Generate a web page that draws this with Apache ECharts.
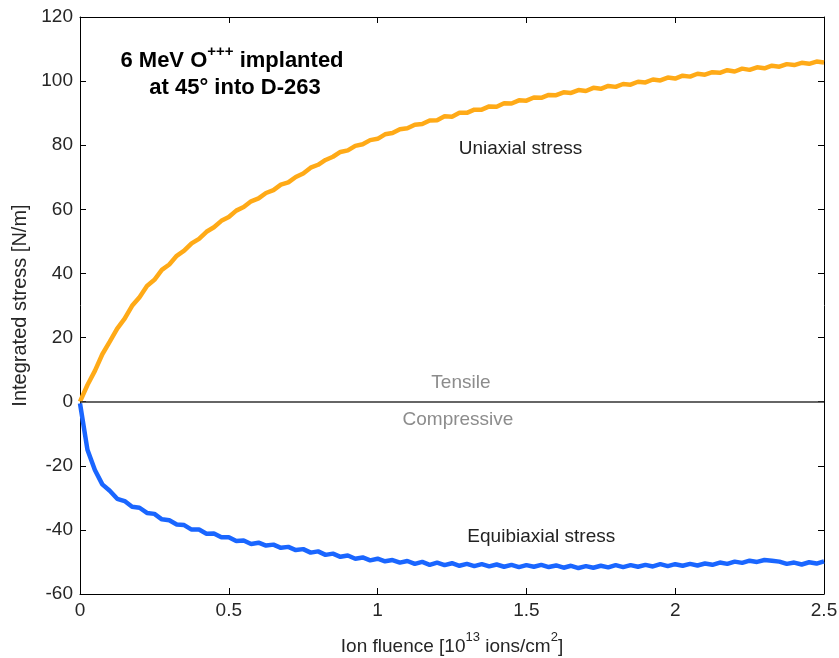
<!DOCTYPE html>
<html><head><meta charset="utf-8">
<script src="https://cdn.jsdelivr.net/npm/echarts@6/dist/echarts.min.js"></script>
<style>html,body{margin:0;padding:0;background:#fff}#c{width:839px;height:658px}</style>
</head><body><div id="c"></div><script>
// Ion fluence [10^13 ions/cm^2]
const fluence = [0,0.025,0.05,0.075,0.1,0.125,0.15,0.175,0.2,0.225,0.25,0.275,0.3,0.325,0.35,0.375,0.4,0.425,0.45,0.475,0.5,0.525,0.55,0.575,0.6,0.625,0.65,0.675,0.7,0.725,0.75,0.775,0.8,0.825,0.85,0.875,0.9,0.925,0.95,0.975,1,1.025,1.05,1.075,1.1,1.125,1.15,1.175,1.2,1.225,1.25,1.275,1.3,1.325,1.35,1.375,1.4,1.425,1.45,1.475,1.5,1.525,1.55,1.575,1.6,1.625,1.65,1.675,1.7,1.725,1.75,1.775,1.8,1.825,1.85,1.875,1.9,1.925,1.95,1.975,2,2.025,2.05,2.075,2.1,2.125,2.15,2.175,2.2,2.225,2.25,2.275,2.3,2.325,2.35,2.375,2.4,2.425,2.45,2.475,2.5];
// Uniaxial stress [N/m]
const uniaxial = [0,5.2,9.6,14.8,18.7,22.8,25.9,29.9,32.6,36.1,
 38.0,41.1,42.8,45.5,47.1,49.4,50.8,53.0,54.4,56.4,
 57.6,59.6,60.7,62.5,63.4,65.1,66.0,67.7,68.4,70.1,
 71.2,73.0,73.9,75.4,76.4,77.9,78.4,79.8,80.3,81.6,
 82.0,83.4,83.8,85.0,85.3,86.4,86.6,87.7,87.8,89.0,
 88.9,90.1,90.1,91.1,91.1,92.1,92.0,93.1,93.0,94.0,
 93.9,94.9,94.8,95.7,95.6,96.5,96.3,97.2,96.9,97.9,
 97.6,98.5,98.2,99.1,98.9,99.8,99.6,100.5,100.2,101.1,
 100.8,101.7,101.4,102.3,102.0,102.8,102.6,103.4,103.0,103.9,
 103.5,104.3,104.0,104.8,104.5,105.3,105.0,105.7,105.4,106.1,
 105.8];
// Equibiaxial stress [N/m]
const equibiaxial = [-0.5,-15.0,-21.3,-25.8,-27.8,-30.3,-31.0,-32.8,-33.1,-34.7,
 -35.0,-36.7,-37.0,-38.3,-38.5,-39.9,-39.9,-41.2,-41.1,-42.3,
 -42.3,-43.5,-43.3,-44.4,-44.0,-44.9,-44.6,-45.6,-45.3,-46.3,
 -46.0,-47.1,-46.7,-47.8,-47.4,-48.4,-48.0,-49.0,-48.6,-49.5,
 -49.0,-49.8,-49.4,-50.2,-49.7,-50.6,-50.0,-50.9,-50.2,-51.0,
 -50.4,-51.2,-50.6,-51.3,-50.7,-51.4,-50.8,-51.5,-50.9,-51.6,
 -51.0,-51.5,-50.9,-51.6,-51.1,-51.8,-51.2,-51.9,-51.3,-51.8,
 -51.2,-51.7,-51.0,-51.6,-51.0,-51.5,-50.9,-51.4,-50.7,-51.3,
 -50.7,-51.2,-50.6,-51.1,-50.5,-50.9,-50.2,-50.6,-49.9,-50.3,
 -49.6,-50.0,-49.4,-49.6,-49.9,-50.6,-50.2,-50.8,-50.1,-50.5,
 -49.8];
const xTicks = {min:0, max:2.5, step:0.5};
const yTicks = {min:-60, max:120, step:20};
const annotations = [
  {text:'Uniaxial stress', at:[1.48, 79], color:'#222'},
  {text:'Equibiaxial stress', at:[1.55, -42.3], color:'#222'},
  {text:'Tensile', at:[1.28, 6], color:'#8c8c8c'},
  {text:'Compressive', at:[1.27, -5.6], color:'#8c8c8c'}
];

const FONT = '"Liberation Sans", Arial, sans-serif';
const LBL = '#262626';
const chart = echarts.init(document.getElementById('c'));
const axisLine = {onZero:false, lineStyle:{color:'#000', width:1}};
const axisTick = {inside:true, length:6, lineStyle:{color:'#000', width:1}};
const option = {
  animation:false,
  backgroundColor:'#fff',
  grid:{left:80, right:15, top:17, bottom:64, containLabel:false, outerBoundsMode:'none'},
  xAxis:[{
    type:'value', min:xTicks.min, max:xTicks.max, interval:xTicks.step, position:'bottom',
    axisLine, axisTick, splitLine:{show:false},
    axisLabel:{fontFamily:FONT, fontSize:19, color:LBL, margin:7},
    name:'{a|Ion fluence [10}{s|13}{a| ions/cm}{s|2}{a|]}',
    nameLocation:'middle', nameGap:37,
    nameTextStyle:{rich:{
      a:{fontFamily:FONT, fontSize:19, color:LBL, lineHeight:32, verticalAlign:'middle'},
      s:{fontFamily:FONT, fontSize:13, color:LBL, lineHeight:15, verticalAlign:'top'}
    }}
  },{
    type:'value', min:xTicks.min, max:xTicks.max, interval:xTicks.step, position:'top',
    axisLine, axisTick, splitLine:{show:false}, axisLabel:{show:false}
  }],
  yAxis:[{
    type:'value', min:yTicks.min, max:yTicks.max, interval:yTicks.step, position:'left',
    axisLine, axisTick, splitLine:{show:false},
    axisLabel:{fontFamily:FONT, fontSize:19, color:LBL, margin:7},
    name:'Integrated stress [N/m]', nameLocation:'middle', nameRotate:90, nameGap:45,
    nameTextStyle:{fontFamily:FONT, fontSize:20, color:LBL}
  },{
    type:'value', min:yTicks.min, max:yTicks.max, interval:yTicks.step, position:'right',
    axisLine, axisTick, splitLine:{show:false}, axisLabel:{show:false}
  }],
  series:[{
    type:'line', name:'Uniaxial stress', xAxisIndex:0, yAxisIndex:0,
    data:fluence.map((x,i)=>[x, uniaxial[i]]),
    showSymbol:false, symbol:'none', lineStyle:{color:'#FFAA17', width:4.5}, itemStyle:{color:'#FFAA17'},
    z:3,
    markLine:{silent:true, symbol:['none','none'], label:{show:false},
      lineStyle:{color:'#333', width:1.5, type:'solid'}, data:[{yAxis:0}]}
  },{
    type:'line', name:'Equibiaxial stress', xAxisIndex:0, yAxisIndex:0,
    data:fluence.map((x,i)=>[x, equibiaxial[i]]),
    showSymbol:false, symbol:'none', lineStyle:{color:'#1A66FF', width:4.5}, itemStyle:{color:'#1A66FF'},
    z:3
  }]
};
chart.setOption(option);

const graphics = [{
  type:'text', x:232, y:61,
  style:{text:'{a|6 MeV O}{s|+++}{a| implanted}', align:'center', verticalAlign:'middle',
    rich:{a:{fontFamily:FONT, fontSize:22, fontWeight:'bold', fill:'#000', lineHeight:34, verticalAlign:'middle'},
          s:{fontFamily:FONT, fontSize:15, fontWeight:'bold', fill:'#000', lineHeight:16, verticalAlign:'top'}}}
},{
  type:'text', x:235, y:88,
  style:{text:'at 45\u00B0 into D-263', align:'center', verticalAlign:'middle',
    fontFamily:FONT, fontSize:22, fontWeight:'bold', fill:'#000'}
}];
annotations.forEach(a=>{
  const p = chart.convertToPixel({xAxisIndex:0, yAxisIndex:0}, a.at);
  graphics.push({type:'text', x:p[0], y:p[1],
    style:{text:a.text, align:'center', verticalAlign:'middle', fontFamily:FONT, fontSize:19, fill:a.color}});
});
chart.setOption({graphic:graphics});
</script></body></html>
